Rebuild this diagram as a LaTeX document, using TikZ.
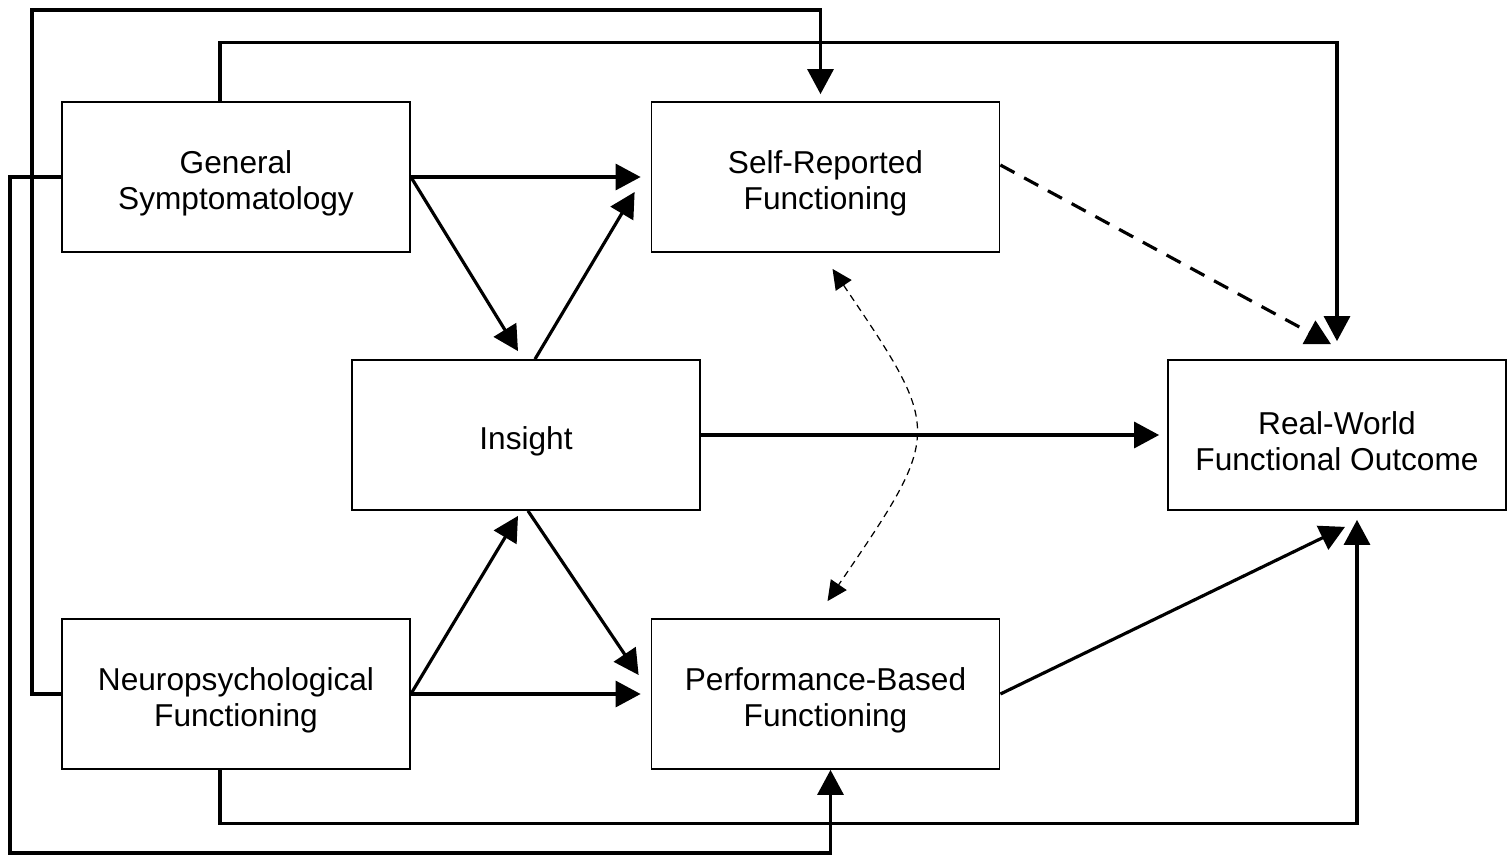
\documentclass[tikz,border=0pt]{standalone}
\usepackage{fontspec}
\setmainfont{Liberation Sans}
\usetikzlibrary{arrows.meta,positioning,calc}
\newcommand{\boxstrut}{\rule{0pt}{10pt}}

\begin{document}
\begin{tikzpicture}[
    every node/.style={font=\fontsize{9}{10.3}\selectfont},
    box/.style={draw, line width=0.5pt, minimum width=3.48cm, minimum height=1.5cm, align=center, inner sep=0pt},
    link/.style={-{Triangle[length=2.5mm,width=2.6mm]}, line width=0.9pt},
    weak/.style={link, dash pattern=on 1.6mm off 1.1mm},
    corr/.style={{Triangle[length=2mm,width=1.9mm]}-{Triangle[length=2mm,width=1.9mm]}, line width=0.35pt, dash pattern=on 0.7mm off 0.5mm}
  ]
  \useasboundingbox (0,0) rectangle (15.07,8.56);
  % Boxes
  \node[box] (gs) at (2.36,6.79) {\boxstrut General\\Symptomatology};
  \node[box] (sr) at (8.255,6.79) {\boxstrut Self-Reported\\Functioning};
  \node[box] (ins) at (5.26,4.21) {\boxstrut Insight};
  \node[box, minimum width=3.38cm] (rw) at (13.37,4.21) {\boxstrut Real-World\\Functional Outcome};
  \node[box] (np) at (2.36,1.62) {\boxstrut Neuropsychological\\Functioning};
  \node[box] (pb) at (8.255,1.62) {\boxstrut Performance-Based\\Functioning};
  % Outer paths
  \draw[link] (np.west) -| (0.32,8.46) -| ([shift={(-0.05,0.07)}]sr.north);
  \draw[link] ([xshift=-0.16cm]gs.north) -- ++(0,0.59) -| ([yshift=0.18cm]rw.north);
  \draw[link] (gs.west) -| (0.10,0.03) -| ([xshift=0.05cm]pb.south);
  \draw[link] ([xshift=-0.16cm]np.south) -- ++(0,-0.54) -| ([shift={(0.2,-0.09)}]rw.south);
  % Direct paths
  \draw[link] (gs.east) -- ([xshift=-0.1cm]sr.west);
  \draw[link] (gs.east) -- ([shift={(-0.08,0.08)}]ins.north);
  \draw[link] ([xshift=0.09cm]ins.north) -- ([shift={(-0.16,-0.15)}]sr.west);
  \draw[link] (ins.east) -- ([xshift=-0.08cm]rw.west);
  \draw[link] (np.east) -- ([xshift=-0.1cm]pb.west);
  \draw[link] (np.east) -- ([shift={(-0.08,-0.05)}]ins.south);
  \draw[link] ([xshift=0.02cm]ins.south) -- ([shift={(-0.12,0.19)}]pb.west);
  \draw[link] (pb.east) -- ([shift={(0.08,-0.16)}]rw.south);
  \draw[weak] ([yshift=0.12cm]sr.east) -- ([shift={(-0.06,0.15)}]rw.north);
  % Correlation
  \draw[corr] ([shift={(0.07,-0.16)}]sr.south) .. controls (9.43,4.24) .. ([shift={(0.02,0.17)}]pb.north);
\end{tikzpicture}
\end{document}
